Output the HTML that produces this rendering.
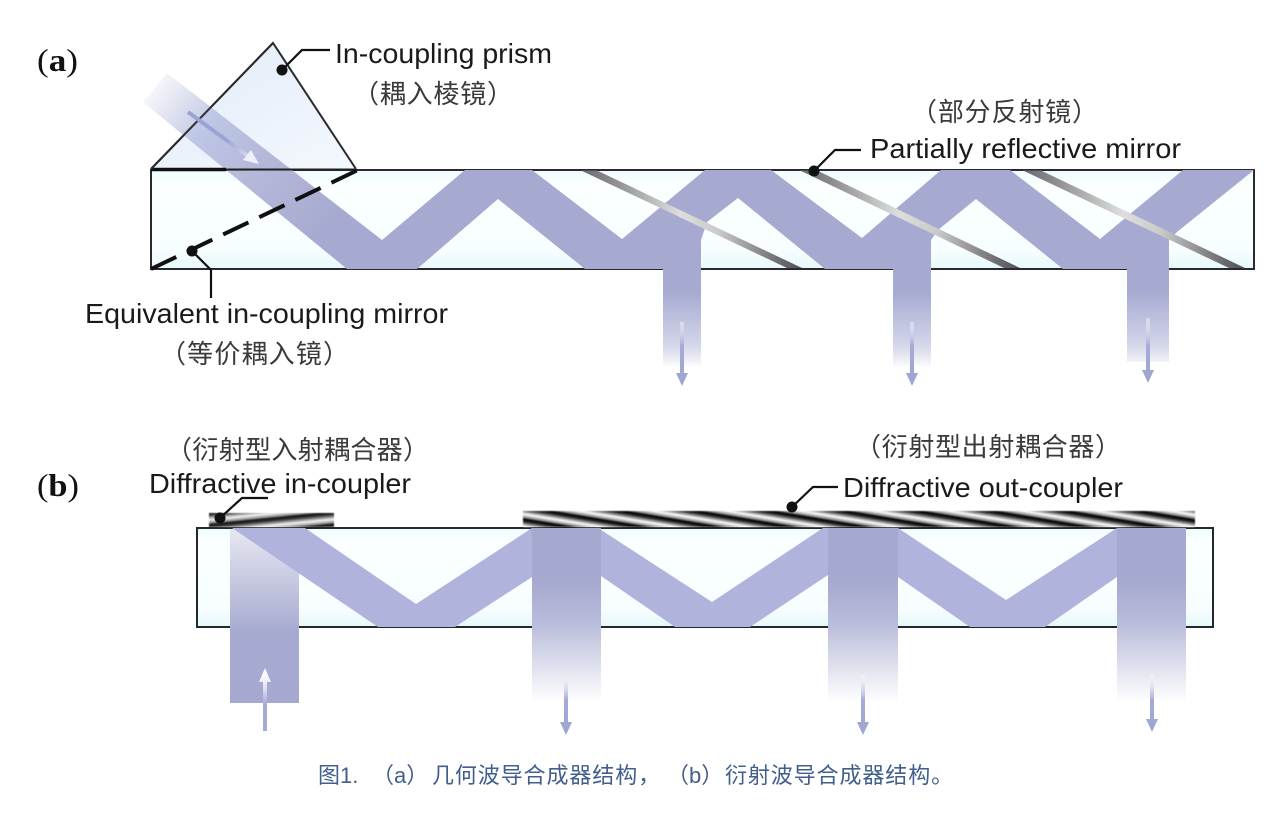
<!DOCTYPE html>
<html><head><meta charset="utf-8"><style>
html,body{margin:0;padding:0;background:#fff;width:1284px;height:813px;overflow:hidden}
svg{display:block}
.l{font-family:"Liberation Sans",sans-serif;font-size:28px;fill:#1a1a1a}
.c{font-family:"Liberation Sans","Noto Sans CJK SC",sans-serif;font-size:26px;fill:#3a3a3a}
.h{font-family:"Liberation Serif",serif;font-size:32px;fill:#111}
.cap{font-family:"Liberation Sans","Noto Sans CJK SC",sans-serif;font-size:22px;fill:#425e8c}
</style></head><body>
<svg width="1284" height="813" viewBox="0 0 1284 813" xmlns="http://www.w3.org/2000/svg">
<defs>
<filter id="soft" x="-5%" y="-20%" width="110%" height="140%"><feGaussianBlur stdDeviation=".6"/></filter>
<linearGradient id="glass" x1="0" y1="0" x2="0" y2="1"><stop offset="0" stop-color="#eefcff"/><stop offset=".15" stop-color="#fbffff"/><stop offset=".8" stop-color="#f8feff"/><stop offset="1" stop-color="#e6f8fb"/></linearGradient>
<linearGradient id="prism" x1="0" y1="0" x2="1" y2="1"><stop offset="0" stop-color="#e2ebf8"/><stop offset="1" stop-color="#f4f8fe"/></linearGradient>
<linearGradient id="inbeam" gradientUnits="userSpaceOnUse" x1="150" y1="85" x2="330" y2="225"><stop offset="0" stop-color="#a6aad0" stop-opacity=".06"/><stop offset=".3" stop-color="#a6b0d8" stop-opacity=".65"/><stop offset=".6" stop-color="#b0b2d6" stop-opacity=".92"/><stop offset="1" stop-color="#a6aad0"/></linearGradient>
<linearGradient id="ina" gradientUnits="userSpaceOnUse" x1="0" y1="285" x2="0" y2="366"><stop offset="0" stop-color="#a6aad0"/><stop offset=".08" stop-color="#a6aad0"/><stop offset=".55" stop-color="#c6c9e2"/><stop offset="1" stop-color="#a6aad0" stop-opacity=".04"/></linearGradient>
<linearGradient id="inb" gradientUnits="userSpaceOnUse" x1="0" y1="528" x2="0" y2="703"><stop offset="0" stop-color="#e8e8f2"/><stop offset=".6" stop-color="#a6aad0"/><stop offset="1" stop-color="#a5a9d0"/></linearGradient>
<linearGradient id="outb" gradientUnits="userSpaceOnUse" x1="0" y1="528" x2="0" y2="702"><stop offset="0" stop-color="#a5a9cf"/><stop offset=".3" stop-color="#a5a9cf"/><stop offset=".55" stop-color="#b9bcda"/><stop offset="1" stop-color="#b9bcda" stop-opacity="0"/></linearGradient>
<linearGradient id="m" x1="0" y1="0" x2="1" y2="0"><stop offset="0" stop-color="#6a6a6e"/><stop offset=".15" stop-color="#8e8e90"/><stop offset=".45" stop-color="#dedede"/><stop offset=".62" stop-color="#cacaca"/><stop offset=".9" stop-color="#6c6c70"/><stop offset="1" stop-color="#505054"/></linearGradient>
<linearGradient id="g1" gradientUnits="userSpaceOnUse" x1="0" y1="0" x2="-2" y2="12" spreadMethod="repeat"><stop offset="0" stop-color="#000"/><stop offset=".2" stop-color="#222"/><stop offset=".6" stop-color="#fff"/><stop offset=".85" stop-color="#999"/><stop offset="1" stop-color="#000"/></linearGradient>
<linearGradient id="g2" gradientUnits="userSpaceOnUse" x1="0" y1="0" x2="1.2" y2="12" spreadMethod="repeat"><stop offset="0" stop-color="#111"/><stop offset=".2" stop-color="#333"/><stop offset=".6" stop-color="#f4f4f4"/><stop offset=".85" stop-color="#999"/><stop offset="1" stop-color="#111"/></linearGradient>
<linearGradient id="arrD1" gradientUnits="userSpaceOnUse" x1="0" y1="320" x2="0" y2="372"><stop offset="0" stop-color="#fff" stop-opacity=".4"/><stop offset=".5" stop-color="#a6aad6"/><stop offset="1" stop-color="#a0a6d2"/></linearGradient>
<linearGradient id="arrD2" gradientUnits="userSpaceOnUse" x1="0" y1="675" x2="0" y2="725"><stop offset="0" stop-color="#fff" stop-opacity=".4"/><stop offset=".5" stop-color="#a6aad6"/><stop offset="1" stop-color="#a0a6d2"/></linearGradient>
<linearGradient id="arrU" gradientUnits="userSpaceOnUse" x1="0" y1="731" x2="0" y2="672"><stop offset="0" stop-color="#a6aad6"/><stop offset=".45" stop-color="#a6aad6"/><stop offset=".75" stop-color="#e4e4f6"/><stop offset="1" stop-color="#fff"/></linearGradient>
<linearGradient id="arrP" gradientUnits="userSpaceOnUse" x1="188" y1="112" x2="258" y2="163"><stop offset="0" stop-color="#9aa4d4"/><stop offset=".55" stop-color="#9aa4d4"/><stop offset="1" stop-color="#eef0fb"/></linearGradient>
</defs>

<!-- Panel a -->
<rect x="151" y="170" width="1103" height="99" fill="url(#glass)"/>
<polygon points="273,43 151,169 356,169" fill="url(#prism)"/>
<g stroke="#2a2a2e" fill="none">
<path d="M151,170H1254V269H151Z" stroke-width="2"/>
<path d="M151,169L273,43L356,169" stroke-width="2"/>
</g>
<polygon points="143,102 167,73 382,240 465,170 532,170 622,239 705,170 771,170 862,238 941,170 1010,170 1100,239 1183,170 1254,170 1177,232 1169,240 1127,269 1063,269 976,199 938,230 931,240 893,269 825,269 738,198 707,222 701,240 663,269 585,269 498,199 417,269 347,269" fill="url(#inbeam)"/>
<path d="M151,169.500H226" stroke="#111" stroke-width="3.500"/>
<path d="M226,169.500H356" stroke="#222" stroke-width="2"/>
<path d="M151,169L273,43" stroke="#2a2a2e" stroke-width="2" stroke-opacity=".9"/>
<rect x="663" y="240" width="38" height="126" fill="url(#ina)"/>
<rect x="663" y="240" width="38" height="46" fill="#a6aad0"/>
<rect x="893" y="240" width="38" height="127" fill="url(#ina)"/>
<rect x="893" y="240" width="38" height="46" fill="#a6aad0"/>
<rect x="1127" y="240" width="42" height="122" fill="url(#ina)"/>
<rect x="1127" y="240" width="42" height="46" fill="#a6aad0"/>
<polygon points="581,170.500 597,170.500 802,268 787,268" fill="url(#m)"/>
<polygon points="800,170.500 817,170.500 1020,268 1004,268" fill="url(#m)"/>
<polygon points="1023,170.500 1041,170.500 1245,268 1229,268" fill="url(#m)"/>
<path d="M151,269L358,170" stroke="#111" stroke-width="4" stroke-dasharray="28 12" fill="none"/>
<path d="M188,112L248,156" stroke="url(#arrP)" stroke-width="4" fill="none"/>
<polygon points="259,164 243,160 251,150" fill="#eef0fb"/>
<g fill="url(#arrD1)">
<polygon points="680,322 684,322 684,373 688,373 682,386 676,373 680,373"/>
<polygon points="910,322 914,322 914,373 918,373 912,386 906,373 910,373"/>
<polygon points="1146,318 1150,318 1150,370 1154,370 1148,383 1142,370 1146,370"/>
</g>
<g stroke="#111" fill="none" stroke-width="2.200">
<path d="M282,70L302,50H330"/><path d="M814,171L835,150H861"/><path d="M192,251L211,270V298"/>
</g>
<g fill="#111"><circle cx="282" cy="70" r="5.500"/><circle cx="814" cy="171" r="5.500"/><circle cx="192" cy="251" r="5.500"/></g>

<!-- Panel b -->
<rect x="197" y="528" width="1016" height="99" fill="url(#glass)"/>
<path d="M197,528H1213V627H197Z" stroke="#22282c" stroke-width="2" fill="none"/>
<g filter="url(#soft)">
<rect x="209" y="513" width="125" height="14" fill="url(#g2)"/>
<rect x="523" y="511" width="672" height="16" fill="url(#g1)"/>
</g>
<rect x="230" y="529" width="69" height="174" fill="url(#inb)"/>
<polygon points="232,528 305,528 416,604 532,528 598,528 712,602 823,528 898,528 1006,600 1117,528 1117,577 1045,627 970,627 898,577 828,575 750,627 675,627 601,576 532,577 455,627 378,627" fill="#b0b4dc"/>
<rect x="532" y="528" width="69" height="174" fill="#fff"/>
<rect x="828" y="528" width="70" height="174" fill="#fff"/>
<rect x="1117" y="528" width="69" height="174" fill="#fff"/>
<rect x="532" y="528" width="69" height="99" fill="url(#glass)"/>
<rect x="828" y="528" width="70" height="99" fill="url(#glass)"/>
<rect x="1117" y="528" width="69" height="99" fill="url(#glass)"/>
<rect x="532" y="528" width="69" height="174" fill="url(#outb)"/>
<rect x="828" y="528" width="70" height="174" fill="url(#outb)"/>
<rect x="1117" y="528" width="69" height="174" fill="url(#outb)"/>
<polygon points="263,731 267,731 267,682 271,682 265,668 259,682 263,682" fill="url(#arrU)"/>
<g fill="url(#arrD2)">
<polygon points="564,678 568,678 568,722 572,722 566,735 560,722 564,722"/>
<polygon points="861,675 865,675 865,722 869,722 863,735 857,722 861,722"/>
<polygon points="1150,675 1154,675 1154,719 1158,719 1152,732 1146,719 1150,719"/>
</g>
<g stroke="#111" fill="none" stroke-width="2.200">
<path d="M220,518L242,498H268"/><path d="M792,507L813,487H838"/>
</g>
<g fill="#111"><circle cx="220" cy="518" r="5.500"/><circle cx="792" cy="507" r="5.500"/></g>

<!-- Labels -->
<text class="h" x="37" y="71" textLength="41" lengthAdjust="spacingAndGlyphs">(<tspan font-weight="700">a</tspan>)</text>
<text class="h" x="37" y="496" textLength="42" lengthAdjust="spacingAndGlyphs">(<tspan font-weight="700">b</tspan>)</text>
<text class="l" x="335" y="63" textLength="217" lengthAdjust="spacingAndGlyphs">In-coupling prism</text>
<text class="c" x="353" y="103" textLength="160" lengthAdjust="spacing">（耦入棱镜）</text>
<text class="c" x="911" y="121" textLength="187" lengthAdjust="spacing">（部分反射镜）</text>
<text class="l" x="870" y="158" textLength="311" lengthAdjust="spacingAndGlyphs">Partially reflective mirror</text>
<text class="l" x="85" y="323" textLength="363" lengthAdjust="spacingAndGlyphs">Equivalent in-coupling mirror</text>
<text class="c" x="160" y="363" textLength="189" lengthAdjust="spacing">（等价耦入镜）</text>
<text class="c" x="166" y="459" textLength="263" lengthAdjust="spacing">（衍射型入射耦合器）</text>
<text class="l" x="149" y="493" textLength="262" lengthAdjust="spacingAndGlyphs">Diffractive in-coupler</text>
<text class="c" x="855" y="456" textLength="266" lengthAdjust="spacing">（衍射型出射耦合器）</text>
<text class="l" x="843" y="497" textLength="280" lengthAdjust="spacingAndGlyphs">Diffractive out-coupler</text>
<text class="cap" x="318" y="783">图1.</text>
<text class="cap" x="372" y="783">（a）</text>
<text class="cap" x="432" y="783" letter-spacing=".9">几何波导合成器结构，</text>
<text class="cap" x="667" y="783">（b）</text>
<text class="cap" x="725" y="783" letter-spacing=".9">衍射波导合成器结构。</text>
</svg>
</body></html>
